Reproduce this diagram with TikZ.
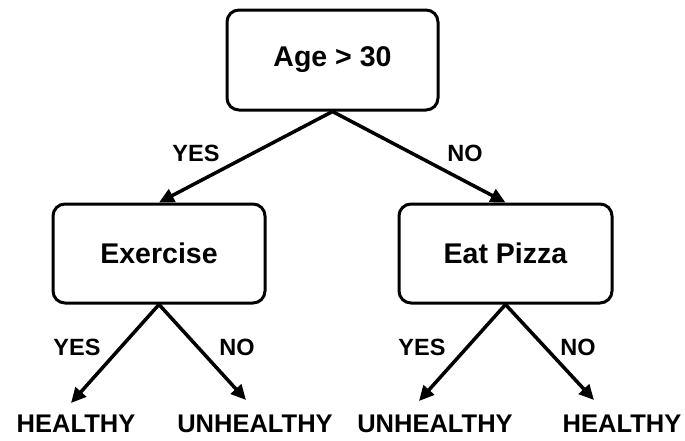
\documentclass[tikz,border=0pt]{standalone}
\usepackage{fontspec}
\setmainfont{Liberation Sans}
\usetikzlibrary{arrows.meta}
\begin{document}
\begin{tikzpicture}[x=1pt,y=-1pt,
  decision/.style={draw=black,line width=3pt,rounded corners=12pt,fill=white,
    inner sep=0pt,font=\bfseries\fontsize{28.5}{30}\selectfont},
  branch/.style={line width=3.5pt,-{Triangle[length=15pt,width=14pt]}},
  answer/.style={font=\bfseries\fontsize{23.5}{26}\selectfont,inner sep=0pt},
  outcome/.style={font=\bfseries\fontsize{25.5}{28}\selectfont,inner sep=0pt}]
\useasboundingbox (0,0) rectangle (685,440);

% decision nodes
\node[decision,minimum width=211pt,minimum height=100pt] (age) at (332.5,60) {Age > 30};
\node[decision,minimum width=212pt,minimum height=99pt] (ex) at (159,253.5) {Exercise};
\node[decision,minimum width=213pt,minimum height=99pt] (pz) at (505.5,253.5) {Eat Pizza};

% outcomes
\node[outcome] (l1) at (76,424) {HEALTHY};
\node[outcome] (l2) at (255,424) {UNHEALTHY};
\node[outcome] (l3) at (435,424) {UNHEALTHY};
\node[outcome] (l4) at (622,424) {HEALTHY};

% arrow ends above the outcomes
\coordinate (t1) at (71,403);
\coordinate (t2) at (246,400);
\coordinate (t3) at (419,401);
\coordinate (t4) at (594,400);

% branches
\draw[branch] (age.south) -- (ex.north);
\draw[branch] (age.south) -- (pz.north);
\draw[branch] (ex.south) -- (t1);
\draw[branch] (ex.south) -- (t2);
\draw[branch] (pz.south) -- (t3);
\draw[branch] (pz.south) -- (t4);

% branch labels
\node[answer] (y0) at (196,153) {YES};
\node[answer] (n0) at (465,153) {NO};
\node[answer] (y1) at (77,347) {YES};
\node[answer] (n1) at (237,347) {NO};
\node[answer] (y2) at (422,347) {YES};
\node[answer] (n2) at (578,347) {NO};
\end{tikzpicture}
\end{document}
